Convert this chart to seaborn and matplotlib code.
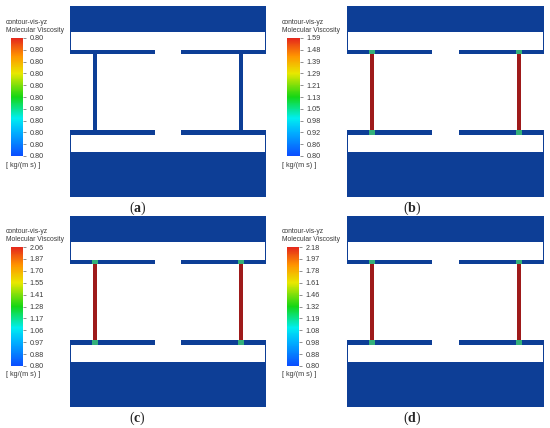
import numpy as np
import matplotlib
matplotlib.use("Agg")
import matplotlib.pyplot as plt
from matplotlib.colors import ListedColormap, LinearSegmentedColormap
import seaborn as sns

# --- data ---
panel_ids = ["a", "b", "c", "d"]
column_loaded = [False, True, True, True]

ticks_a = ["0.80", "0.80", "0.80", "0.80", "0.80", "0.80", "0.80", "0.80", "0.80", "0.80", "0.80"]
ticks_b = ["0.80", "0.86", "0.92", "0.98", "1.05", "1.13", "1.21", "1.29", "1.39", "1.48", "1.59"]
ticks_c = ["0.80", "0.88", "0.97", "1.06", "1.17", "1.28", "1.41", "1.55", "1.70", "1.87", "2.06"]
ticks_d = ["0.80", "0.88", "0.98", "1.08", "1.19", "1.32", "1.46", "1.61", "1.78", "1.97", "2.18"]
panel_ticks = [ticks_a, ticks_b, ticks_c, ticks_d]

# section geometry in grid cells (rows counted from the top)
layer_edges = [0, 26, 44, 48, 124, 129, 146, 191]
layer_kind = ["solid", "fluid", "plate", "gap", "plate", "fluid", "solid"]
grid_width = 196
plate_spans = [(0, 85), (111, 196)]
column_spans = [(23, 27), (169, 173)]

# --- styling ---
sns.set_style("white")
plt.rcParams["font.family"] = ["Liberation Sans", "DejaVu Sans"]
plt.rcParams["mathtext.fontset"] = "custom"
plt.rcParams["mathtext.bf"] = "Liberation Serif:bold"
plt.rcParams["mathtext.rm"] = "Liberation Serif"

navy = "#0d3e96"
maroon = "#9e1a1a"
joint = "#34b07a"
zone_cmap = ListedColormap([navy, maroon, joint])
rainbow = LinearSegmentedColormap.from_list(
    "fluent",
    [(0.0, "#0b4cff"), (0.2, "#00b0ff"), (0.32, "#00eef0"), (0.5, "#14d614"),
     (0.7, "#e8e800"), (0.85, "#ff9400"), (1.0, "#e4261c")])

W, H = 550, 428
# pixel boxes (x0, y0, x1, y1)
panel_box = [(70, 6, 266, 197), (347, 6, 544, 197), (70, 216, 266, 407), (347, 216, 544, 407)]
cbar_box = [(11, 38, 23, 156), (287, 38, 300, 156), (11, 247, 23, 366), (287, 247, 299, 366)]
text_x = [6, 282, 6, 282]
label_pos = [(137.5, 208), (412.5, 208), (137.5, 418), (412.5, 418)]
txt = "#3a3a3a"


def fig_rect(box):
    x0, y0, x1, y1 = box
    return [x0 / W, 1 - y1 / H, (x1 - x0) / W, (y1 - y0) / H]


def build_zone(loaded):
    z = np.full((layer_edges[-1], grid_width), np.nan)
    plate_rows = []
    for r0, r1, kind in zip(layer_edges[:-1], layer_edges[1:], layer_kind):
        if kind == "solid":
            z[r0:r1, :] = 0
        elif kind == "fluid":
            z[r0:r1, 0] = 0
            z[r0:r1, -1] = 0
        elif kind == "plate":
            plate_rows.append((r0, r1))
            for c0, c1 in plate_spans:
                z[r0:r1, c0:c1] = 0
        elif kind == "gap":
            for c0, c1 in column_spans:
                z[r0:r1, c0:c1] = 1 if loaded else 0
    if loaded:
        for r0, r1 in plate_rows:
            for c0, c1 in column_spans:
                z[r0:r1, c0 - 1:c1 + 1] = 2
    return z


fig = plt.figure(figsize=(W / 100, H / 100), dpi=100)
gradient = np.linspace(1, 0, 256)[:, None]

for i, pid in enumerate(panel_ids):
    ax = fig.add_axes(fig_rect(panel_box[i]))
    zone = build_zone(column_loaded[i])
    sns.heatmap(zone, cmap=zone_cmap, vmin=-0.5, vmax=2.5, cbar=False,
                xticklabels=False, yticklabels=False, ax=ax)

    cax = fig.add_axes(fig_rect(cbar_box[i]))
    sns.heatmap(gradient, cmap=rainbow, vmin=0, vmax=1, cbar=False,
                xticklabels=False, yticklabels=False, ax=cax)
    cax.set_yticks(np.linspace(0, len(gradient), 11))
    cax.set_yticklabels(panel_ticks[i][::-1], rotation=0)
    cax.yaxis.tick_right()
    cax.tick_params(axis="y", length=2, width=0.4, labelsize=5.2, pad=2.5,
                    colors=txt, labelcolor=txt)

    x0, y0, x1, y1 = cbar_box[i]
    tx = text_x[i] / W
    fig.text(tx, 1 - (y0 - 15.5) / H, "contour-vis-yz", fontsize=4.9, color=txt, va="center")
    fig.text(tx, 1 - (y0 - 7.5) / H, "Molecular Viscosity", fontsize=4.9, color=txt, va="center")
    fig.text(tx, 1 - (y1 + 9) / H, "[ kg/(m s) ]", fontsize=5.2, color=txt, va="center")

    lx, ly = label_pos[i]
    fig.text(lx / W, 1 - ly / H, r"$\mathrm{(}\mathbf{" + pid + r"}\mathrm{)}$",
             fontsize=10, ha="center", va="center")

fig.savefig("out.png", dpi=100, facecolor="white")
